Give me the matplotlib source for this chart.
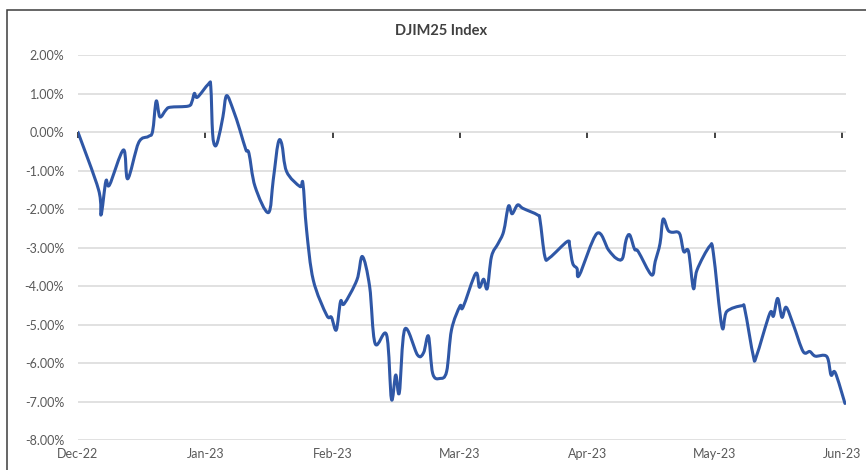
import matplotlib
matplotlib.use("Agg")
import matplotlib.pyplot as plt
import numpy as np
from matplotlib.patches import Rectangle, PathPatch
from matplotlib.path import Path
from matplotlib.ticker import FuncFormatter

# trading-session position and cumulative return (%)
sessions = [0.0, 3.4, 3.8, 4.6, 5.2, 7.5, 8.2, 10.0, 11.6, 12.3, 12.9, 13.5, 14.5, 15.2,
            18.2, 18.8, 19.2, 19.7, 21.5, 21.9, 22.2, 22.6, 23.1, 23.9, 24.5, 25.6,
            26.7, 27.7, 28.2, 29.2, 31.4, 32.2, 33.0, 33.6, 34.4, 36.6, 37.1, 37.7,
            38.8, 41.0, 41.8, 42.6, 43.3, 43.9, 46.0, 46.9, 48.1, 49.0, 50.9, 51.7,
            52.4, 53.0, 53.9, 56.0, 57.0, 57.8, 58.5, 59.7, 60.8, 61.6, 63.0, 63.5,
            65.6, 66.2, 66.9, 67.5, 68.2, 69.3, 70.2, 71.0, 71.6, 72.5, 73.4, 75.8,
            76.2, 77.0, 77.8, 80.7, 81.1, 81.6, 82.3, 82.7, 85.6, 87.5, 88.8, 89.8,
            90.4, 91.0, 91.8, 92.4, 94.6, 95.2, 96.0, 96.5, 97.3, 97.9, 99.2, 99.9,
            100.7, 101.5, 102.1, 104.2, 104.8, 106.2, 107.0, 109.5, 110.0, 111.4,
            111.9, 114.1, 114.7, 115.4, 116.1, 116.8, 118.0, 119.6, 120.7, 121.6,
            123.5, 124.2, 124.9, 126.5]
returns = [0.00, -1.50, -2.15, -1.27, -1.37, -0.46, -1.21, -0.27, -0.11, 0.02, 0.81, 0.40,
           0.58, 0.65, 0.68, 0.80, 1.01, 0.91, 1.25, 1.19, -0.03, -0.35, -0.20, 0.40,
           0.95, 0.58, 0.06, -0.46, -0.55, -1.41, -2.09, -1.24, -0.29, -0.30, -1.02,
           -1.41, -1.33, -2.54, -3.84, -4.75, -4.81, -5.14, -4.40, -4.46, -3.84,
           -3.23, -4.01, -5.49, -5.27, -6.94, -6.31, -6.77, -5.12, -5.79, -5.73,
           -5.30, -6.27, -6.40, -6.22, -5.14, -4.52, -4.55, -3.67, -4.03, -3.82,
           -4.06, -3.23, -2.89, -2.58, -1.92, -2.12, -1.89, -1.98, -2.15, -2.28,
           -3.23, -3.26, -2.84, -2.97, -3.41, -3.54, -3.71, -2.63, -3.06, -3.28,
           -3.28, -2.80, -2.67, -3.04, -3.10, -3.71, -3.36, -2.89, -2.26, -2.54,
           -2.60, -2.63, -3.10, -3.10, -4.06, -3.58, -2.96, -3.15, -5.05, -4.66,
           -4.51, -4.62, -5.83, -5.82, -4.71, -4.78, -4.32, -4.81, -4.55, -5.01,
           -5.70, -5.70, -5.82, -5.83, -6.31, -6.25, -7.05]

month_labels = ["Dec-22", "Jan-23", "Feb-23", "Mar-23", "Apr-23", "May-23", "Jun-23"]
month_ticks = [0, 21, 42, 63, 84, 105, 126]
y_ticks = [2, 1, 0, -1, -2, -3, -4, -5, -6, -7, -8]


def smooth_path(xs, ys):
    # Excel-style smoothed line: cubic Bezier segments through every point
    p = np.column_stack([xs, ys])
    n = len(p)
    verts = [p[0]]
    codes = [Path.MOVETO]
    for i in range(n - 1):
        p0 = p[max(i - 1, 0)]
        p1 = p[i]
        p2 = p[i + 1]
        p3 = p[min(i + 2, n - 1)]
        verts += [p1 + (p2 - p0) / 6, p2 - (p3 - p1) / 6, p2]
        codes += [Path.CURVE4] * 3
    return Path(verts, codes)


plt.rcParams['font.family'] = ['Lato', 'DejaVu Sans']

fig = plt.figure(figsize=(8.66, 4.70), dpi=100)
ax = fig.add_axes([78 / 866, 1 - 440 / 470, 768 / 866, (440 - 55.3) / 470])

# chart border (cut off on the right and bottom in the original)
fig.patches.append(Rectangle((7 / 866, -0.1), 1.2, 1.1 - 10 / 470, transform=fig.transFigure,
                             fill=False, ec="#3c3c3c", lw=1.1))

line = PathPatch(smooth_path(sessions, returns), fill=False, ec="#2F57A6", lw=2.2,
                 joinstyle="round", capstyle="round", zorder=3)
ax.add_patch(line)

ax.set_xlim(0, 126.67)
ax.set_ylim(-8, 2)
ax.set_yticks(y_ticks)
ax.yaxis.set_major_formatter(FuncFormatter(lambda v, p: f"{v:.2f}%"))
ax.grid(axis="y", color="#D9D9D9", lw=1.1)
ax.set_axisbelow(True)
for s in ax.spines.values():
    s.set_visible(False)
ax.tick_params(axis="y", length=0, pad=10, labelsize=9, labelcolor="#595959")

ax.set_xticks(month_ticks)
ax.set_xticklabels(month_labels)
ax.tick_params(axis="x", length=0, pad=6, labelsize=9, labelcolor="#595959")

# horizontal axis line at 0% with the month tick marks
zero = ax.secondary_xaxis(0.8)
zero.set_xticks(month_ticks)
zero.tick_params(axis="x", direction="out", length=4, width=1.2, color="#222222",
                 labelbottom=False, labeltop=False, bottom=True, top=False)
zero.xaxis.set_ticks_position("bottom")
zero.spines["bottom"].set_color("#222222")
zero.spines["bottom"].set_linewidth(1.3)
zero.spines["top"].set_visible(False)
zero.set_xticklabels([])

fig.text(441 / 866, 1 - 31 / 470, "DJIM25 Index", ha="center", va="center",
         fontsize=10.5, fontweight="bold", color="#404040")

fig.savefig("out.png", dpi=100)
